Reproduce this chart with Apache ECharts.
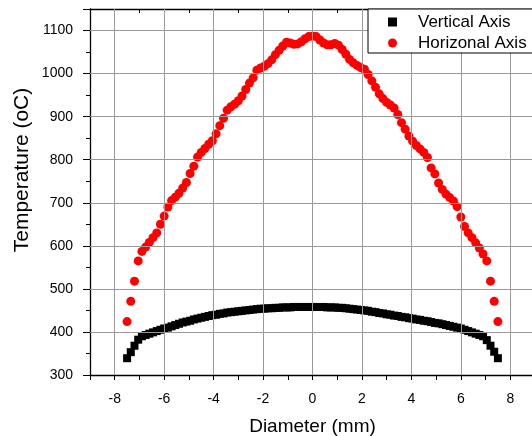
<!DOCTYPE html>
<html>
<head>
<meta charset="utf-8">
<script src="https://cdn.jsdelivr.net/npm/echarts@6/dist/echarts.min.js"></script>
<style>
  html, body { margin: 0; padding: 0; background: #fff; }
  #main { width: 532px; height: 436px; }
</style>
</head>
<body>
<div id="main"></div>
<script>
const diameter = [-7.5,-7.35,-7.2,-7.05,-6.9,-6.75,-6.6,-6.45,-6.3,-6.15,
    -6,-5.85,-5.7,-5.55,-5.4,-5.25,-5.1,-4.95,-4.8,-4.65,
    -4.5,-4.35,-4.2,-4.05,-3.9,-3.75,-3.6,-3.45,-3.3,-3.15,
    -3,-2.85,-2.7,-2.55,-2.4,-2.25,-2.1,-1.95,-1.8,-1.65,
    -1.5,-1.35,-1.2,-1.05,-0.9,-0.75,-0.6,-0.45,-0.3,-0.15,
    0,
    0.15,0.3,0.45,0.6,0.75,0.9,1.05,1.2,1.35,1.5,
    1.65,1.8,1.95,2.1,2.25,2.4,2.55,2.7,2.85,3,
    3.15,3.3,3.45,3.6,3.75,3.9,4.05,4.2,4.35,4.5,
    4.65,4.8,4.95,5.1,5.25,5.4,5.55,5.7,5.85,6,
    6.15,6.3,6.45,6.6,6.75,6.9,7.05,7.2,7.35,7.5]

// black squares
const vertical_axis = [339,353,368,382,390,393,396,399,402,405,
    408,410,413,416,419,422,424,426,429,431,
    433,435,437,439,440,442,443,445,446,447,
    448,449,450,451,452,453,454,454,455,455,
    456,456,457,457,457,458,458,458,458,458,
    458,
    458,458,458,457,457,457,456,456,455,454,
    453,452,451,450,449,447,446,444,443,441,
    440,438,437,435,434,432,431,429,428,426,
    425,423,421,420,418,416,414,412,410,408,
    405,402,399,396,393,390,381,368,354,339]

// red circles
const horizonal_axis = [424,471,518,565,587,597,608,619,630,650,
    669,690,705,713,722,734,747,768,785,806,
    817,826,836,844,860,879,896,915,923,929,
    937,948,963,978,990,1008,1013,1017,1023,1032,
    1044,1054,1064,1073,1071,1068,1069,1074,1081,1086,
    1087,
    1086,1078,1071,1067,1067,1070,1066,1056,1045,1033,
    1025,1019,1014,1010,998,983,968,953,942,933,
    927,920,905,886,871,855,843,833,825,817,
    805,781,767,746,731,720,712,704,691,667,
    645,630,619,607,595,581,565,518,471,424]

const x_ticks = [-8,-6,-4,-2,0,2,4,6,8]
const y_ticks = [300,400,500,600,700,800,900,1000,1100]
const y_grid = [400,500,600,700,800,900,1000,1100]

const font = "'Liberation Sans', Arial, sans-serif"
const grid_color = '#999999'

const pairs = (ys) => diameter.map((x, i) => [x, ys[i]])

// helper axis that draws only its ticks
const tick_axis = (dim, position, step, inside, length) => {
    let ax = {
        type: 'value', position: position, z: 1,
        min: dim === 'x' ? -9 : 300, max: dim === 'x' ? 9 : 1150,
        axisLine: { show: false, onZero: false },
        axisTick: { show: true, inside: inside, length: length, lineStyle: { color: '#000', width: 1 } },
        axisLabel: { show: false },
        splitLine: { show: false }
    }
    if (step) ax.interval = step
    else ax.splitNumber = 9
    return ax
}

var myChart = echarts.init(document.getElementById('main'));

var option = {
    animation: false,
    grid: { left: 90, top: 9, width: 445, height: 366, outerBoundsMode: 'none' },
    legend: {
        orient: 'vertical',
        left: 368,
        top: 9,
        z: 10,
        backgroundColor: '#fff',
        borderColor: '#000',
        borderWidth: 1,
        borderRadius: 0,
        padding: [4, 30, 1, 20],
        itemWidth: 9,
        itemHeight: 9,
        itemGap: 3,
        textStyle: { fontFamily: font, fontSize: 17, color: '#000', lineHeight: 18, padding: [0, 0, 0, 16] },
        data: [
            { name: 'Vertical Axis', icon: 'rect' },
            { name: 'Horizonal Axis', icon: 'circle' }
        ]
    },
    xAxis: [
        {
            type: 'value', position: 'bottom', z: 1,
            min: -9, max: 9, interval: 1,
            name: 'Diameter (mm)', nameLocation: 'middle', nameGap: 42,
            nameTextStyle: { fontFamily: font, fontSize: 19, color: '#000' },
            axisLine: { onZero: false, lineStyle: { color: '#000', width: 1.3 } },
            axisTick: { inside: false, length: 5, lineStyle: { color: '#000' } },
            axisLabel: {
                margin: 17, fontFamily: font, fontSize: 14, color: '#000',
                formatter: (v) => x_ticks.includes(v) ? String(v) : ''
            },
            splitLine: { show: false }
        },
        {
            type: 'value', position: 'top', z: 1,
            min: -9, max: 9, interval: 1,
            axisLine: { onZero: false, lineStyle: { color: '#000', width: 1.3 } },
            axisTick: { inside: true, length: 4, lineStyle: { color: '#000' } },
            axisLabel: { show: false },
            splitLine: { show: false }
        },
        // longer ticks at the even values on top
        tick_axis('x', 'top', 0, true, 7)
    ],
    yAxis: [
        {
            type: 'value', position: 'left', z: 1,
            min: 300, max: 1150, interval: 100,
            axisLine: { show: true, onZero: false, lineStyle: { color: '#000', width: 1.3 } },
            axisTick: { show: true, inside: false, length: 7, lineStyle: { color: '#000' } },
            axisLabel: {
                margin: 17, fontFamily: font, fontSize: 14, color: '#000',
                formatter: (v) => y_ticks.includes(v) ? String(v) : ''
            },
            splitLine: { show: false }
        },
        tick_axis('y', 'left', 50, false, 4),
        {
            type: 'value', position: 'right', z: 1,
            min: 300, max: 1150, interval: 100,
            axisLine: { show: true, onZero: false, lineStyle: { color: '#000', width: 1.3 } },
            axisTick: { show: true, inside: true, length: 5, lineStyle: { color: '#000' } },
            axisLabel: { show: false },
            splitLine: { show: false }
        },
        tick_axis('y', 'right', 50, true, 3)
    ],
    graphic: [
        {
            type: 'text',
            x: 22, y: 170,
            rotation: Math.PI / 2,
            style: {
                text: 'Temperature (oC)',
                fontFamily: font, fontSize: 21, fill: '#000',
                align: 'center', verticalAlign: 'middle'
            }
        }
    ],
    series: [
        // grid lines, kept under the markers
        {
            name: 'grid',
            type: 'scatter',
            xAxisIndex: 0, yAxisIndex: 0,
            z: 0,
            silent: true,
            data: [],
            markLine: {
                silent: true,
                symbol: ['none', 'none'],
                label: { show: false },
                animation: false,
                lineStyle: { color: grid_color, width: 1, type: 'solid' },
                emphasis: { disabled: true },
                data: [
                    ...x_ticks.map(v => ({ xAxis: v })),
                    ...y_grid.map(v => ({ yAxis: v }))
                ]
            }
        },
        {
            name: 'Vertical Axis',
            type: 'scatter',
            xAxisIndex: 0, yAxisIndex: 0,
            z: 3,
            symbol: 'rect',
            symbolSize: 8,
            itemStyle: { color: '#000', opacity: 1 },
            data: pairs(vertical_axis)
        },
        {
            name: 'Horizonal Axis',
            type: 'scatter',
            xAxisIndex: 0, yAxisIndex: 0,
            z: 3,
            symbol: 'circle',
            symbolSize: 9,
            itemStyle: { color: '#ff0000', opacity: 1 },
            data: pairs(horizonal_axis)
        }
    ]
};

myChart.setOption(option);
</script>
</body>
</html>
